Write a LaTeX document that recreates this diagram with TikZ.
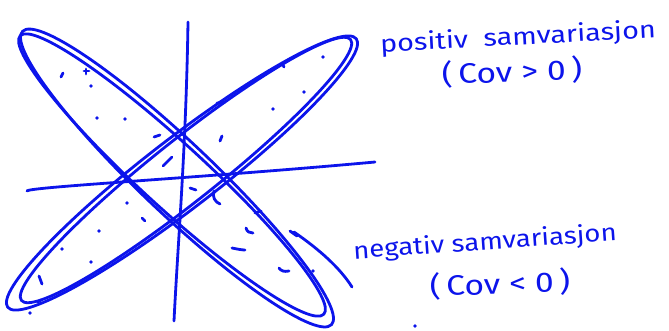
\documentclass[tikz,border=0pt]{standalone}
\usepackage{fontspec}
\setmainfont{Fira Sans}
\definecolor{ink}{RGB}{12,20,235}
\begin{document}
\begin{tikzpicture}[x=1pt,y=-1pt,
  stroke/.style={draw=ink,line width=2.8pt,line cap=round,line join=round},
  speck/.style={draw=ink,line width=2.8pt,line cap=round},
  label/.style={text=ink,font=\fontsize{24}{26}\selectfont,inner sep=0pt},
  cov/.style={text=ink,font=\fontsize{28}{30}\selectfont,inner sep=0pt}]
\useasboundingbox (0,0) rectangle (669,330);
% axes
\coordinate (vtop) at (188,22);
\coordinate (vbot) at (174,321);
\coordinate (hl) at (27,191);
\coordinate (hr) at (375,162);
\draw[stroke] (vtop) .. controls (186,150) and (178,240) .. (vbot);
\draw[stroke] (hl) .. controls (28,187) and (200,178) .. (hr);
% positive ellipse (two loops)
\draw[stroke] (182,173) ellipse [x radius=220, y radius=35, rotate=37.6];
\draw[stroke] (186,170) ellipse [x radius=210, y radius=31, rotate=38.4];
% negative ellipse (two loops and tail)
\draw[stroke] (177,178) ellipse [x radius=213, y radius=36, rotate=-43.5];
\draw[stroke] (172,175) ellipse [x radius=206, y radius=32, rotate=-42.5];
\draw[stroke] (294,232) .. controls (320,250) and (340,268) .. (352,287);
% scattered marks
\foreach \p in {(91,86),(97,118),(125,119),(323,57),(304,92),(273,109),(127,203),(99,231),(62,249),(91,262),(313,271),(30,313),(415,326)}
  \fill[ink] \p circle (1.9pt);
\draw[speck] (61,77) -- (63,73);
\draw[speck] (84,71) -- (89,71) (86,69) -- (86,74);
\draw[speck] (154,137) -- (160,135);
\draw[speck] (163,166) -- (172,157);
\draw[speck] (217,103) .. controls (221,103) and (223,102) .. (225,102);
\draw[speck] (222,136) -- (220,141);
\draw[speck] (282,63) -- (284,67);
\draw[speck] (190,188) -- (196,190);
\draw[speck] (214,191) .. controls (212,197) and (215,202) .. (220,204);
\draw[speck] (142,218) -- (145,221);
\draw[speck] (255,213) -- (261,211);
\draw[speck] (246,228) .. controls (247,232) and (250,233) .. (253,233);
\draw[speck] (232,248) .. controls (237,249) and (242,250) .. (245,250);
\draw[speck] (279,268) .. controls (281,271) and (284,272) .. (289,271);
\draw[speck] (39,276) -- (42,284);
\draw[speck] (38,302) -- (41,300);
\draw[speck] (290,231) -- (297,236);
% labels
\node[label,rotate=3,xscale=1.2] (pos) at (518,38) {positiv\ \ samvariasjon};
\node[cov,rotate=2,xscale=1.2] (poscov) at (512,72) {(\,Cov > 0\,)};
\node[label,rotate=4,xscale=1.15] (neg) at (485,243) {negativ samvariasjon};
\node[cov,rotate=2,xscale=1.2] (negcov) at (500,284) {(\,Cov < 0\,)};
\end{tikzpicture}
\end{document}
